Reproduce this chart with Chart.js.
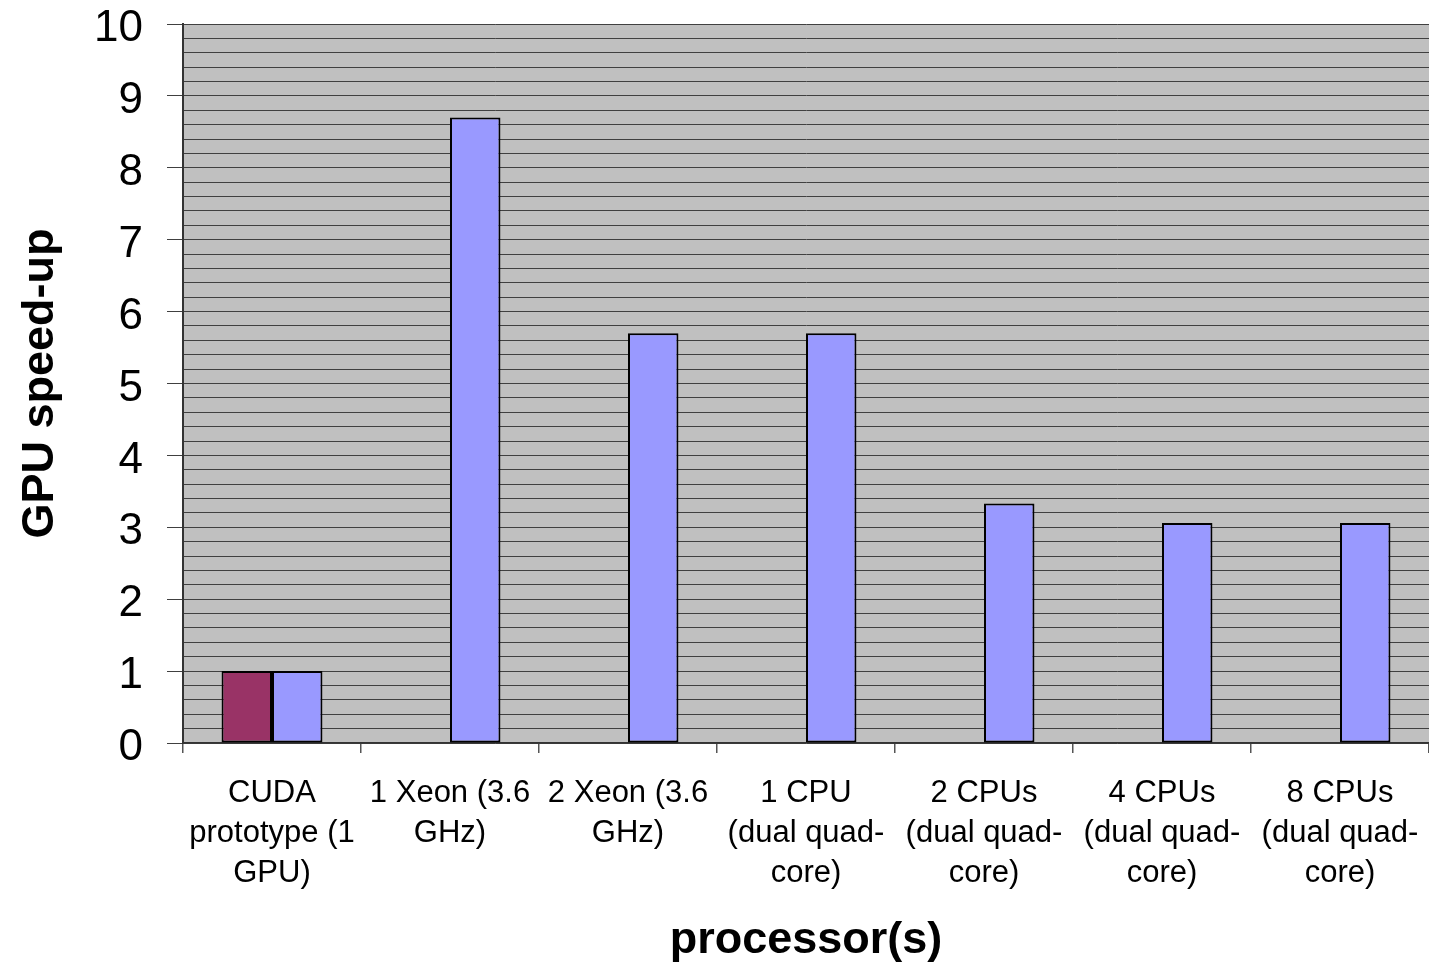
<!DOCTYPE html>
<html>
<head>
<meta charset="utf-8">
<script src="https://cdn.jsdelivr.net/npm/chart.js@4/dist/chart.umd.min.js"></script>
<style>
  html, body { margin: 0; padding: 0; background: #ffffff; }
  #wrap { width: 1429px; height: 962px; position: relative; }
</style>
</head>
<body>
<div id="wrap"><canvas id="chart"></canvas></div>
<script>
// Processor categories (multi-line axis labels)
const categories = [
  ['CUDA', 'prototype (1', 'GPU)'],
  ['1 Xeon (3.6', 'GHz)'],
  ['2 Xeon (3.6', 'GHz)'],
  ['1 CPU', '(dual quad-', 'core)'],
  ['2 CPUs', '(dual quad-', 'core)'],
  ['4 CPUs', '(dual quad-', 'core)'],
  ['8 CPUs', '(dual quad-', 'core)']
];

// GPU baseline (only the first category)
const gpuBaseline = [1, null, null, null, null, null, null];

// GPU speed-up relative to each processor configuration
const speedUp = [1, 8.7, 5.7, 5.7, 3.33, 3.06, 3.06];

// Y axis range and grid spacing
const yMin = 0;
const yMax = 10;
const yGridStep = 0.2;

const isWhole = v => Math.abs(v - Math.round(v)) < 1e-6;

// Grey plot-area background
const plotBackground = {
  id: 'plotBackground',
  beforeDraw(chart) {
    const { ctx, chartArea: a } = chart;
    ctx.save();
    ctx.fillStyle = '#c0c0c0';
    ctx.fillRect(a.left, a.top, a.right - a.left, a.bottom - a.top);
    ctx.restore();
  }
};

new Chart(document.getElementById('chart'), {
  type: 'bar',
  data: {
    labels: categories,
    datasets: [
      {
        label: 'GPU',
        data: gpuBaseline,
        backgroundColor: '#993366',
        borderColor: '#000000',
        borderWidth: 2,
        borderSkipped: false
      },
      {
        label: 'Speed-up',
        data: speedUp,
        backgroundColor: '#9999ff',
        borderColor: '#000000',
        borderWidth: 2,
        borderSkipped: false
      }
    ]
  },
  options: {
    responsive: true,
    maintainAspectRatio: false,
    animation: false,
    layout: { padding: { top: 24, right: 0, bottom: 0, left: 0 } },
    categoryPercentage: 0.567,
    barPercentage: 1.0,
    plugins: {
      legend: { display: false },
      tooltip: { enabled: false }
    },
    scales: {
      x: {
        offset: true,
        grid: {
          offset: true,
          drawOnChartArea: false,
          drawTicks: true,
          tickLength: 10,
          tickColor: '#555555',
          lineWidth: 1.5
        },
        border: { color: '#333333', width: 1.5 },
        ticks: {
          color: '#000000',
          font: { family: '"Liberation Sans", Arial, sans-serif', size: 31, lineHeight: 1.3 },
          padding: 20,
          maxRotation: 0,
          minRotation: 0,
          autoSkip: false
        },
        title: {
          display: true,
          text: 'processor(s)',
          color: '#000000',
          font: { family: '"Liberation Sans", Arial, sans-serif', size: 45, weight: 'bold', lineHeight: 1.2 },
          padding: { top: 0, bottom: -6 }
        },
        afterFit(scale) {
          scale.height = 219;
          scale.paddingLeft = 0;
          scale.paddingRight = 0;
        }
      },
      y: {
        min: yMin,
        max: yMax,
        grid: {
          color: '#404040',
          lineWidth: 1,
          drawTicks: true,
          tickLength: 16,
          tickColor: ctx => (ctx.tick && isWhole(ctx.tick.value)) ? '#404040' : 'rgba(0,0,0,0)'
        },
        border: { color: '#333333', width: 2 },
        ticks: {
          stepSize: yGridStep,
          autoSkip: false,
          color: '#000000',
          padding: 24,
          labelOffset: 5,
          font: { family: '"Liberation Sans", Arial, sans-serif', size: 44 },
          callback: v => isWhole(v) ? String(Math.round(v)) : ''
        },
        title: {
          display: true,
          text: 'GPU speed-up',
          color: '#000000',
          font: { family: '"Liberation Sans", Arial, sans-serif', size: 45, weight: 'bold', lineHeight: 1.2 },
          padding: { top: 14, bottom: 0 }
        },
        afterFit(scale) {
          scale.width = 183;
          scale.paddingTop = 0;
          scale.paddingBottom = 0;
        }
      }
    }
  },
  plugins: [plotBackground]
});
</script>
</body>
</html>
